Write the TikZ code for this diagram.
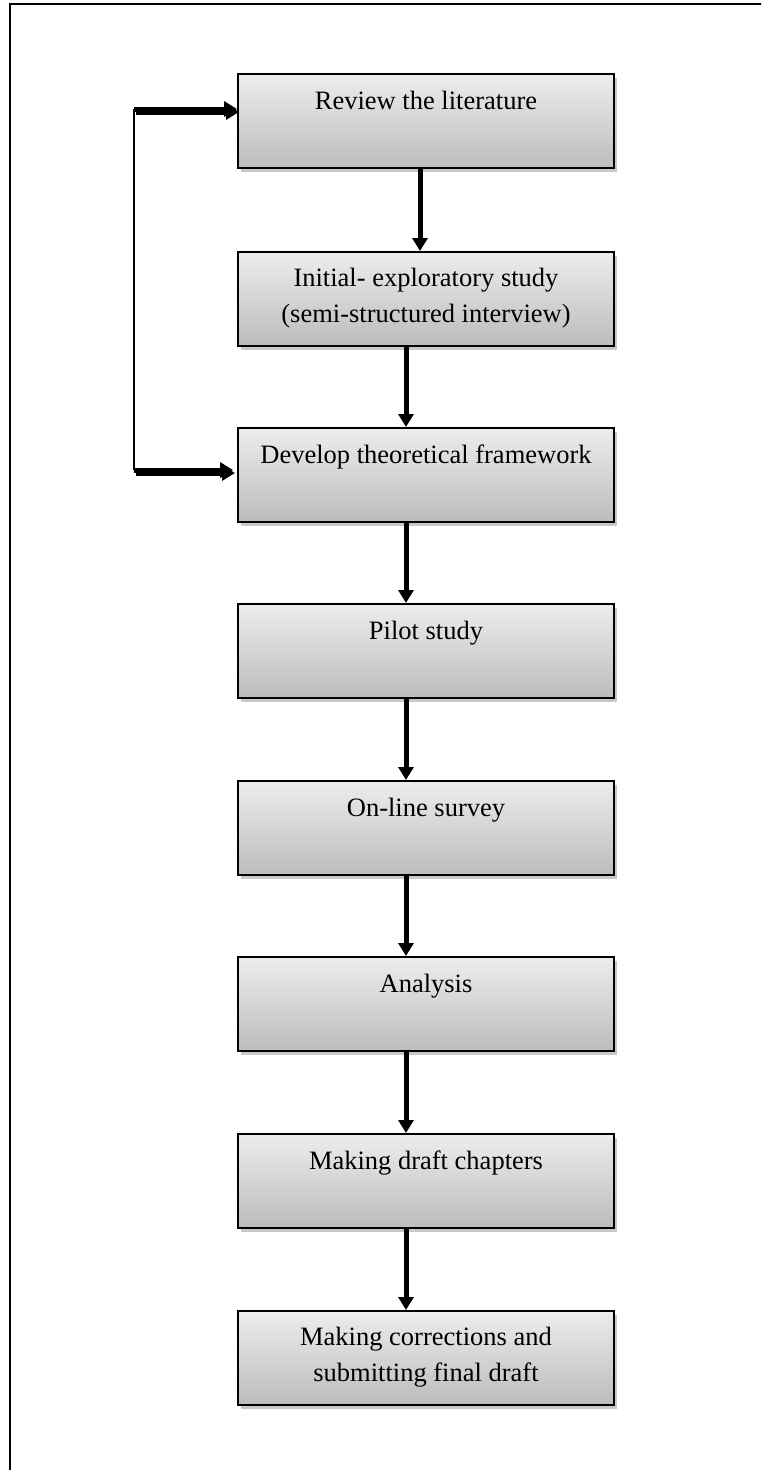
\documentclass[tikz,border=0pt]{standalone}
\usepackage{fontspec}
\setmainfont{Liberation Serif}
\usetikzlibrary{arrows.meta,shadows,calc}
\definecolor{boxtop}{HTML}{EDEDED}
\definecolor{boxbot}{HTML}{BCBCBC}
\definecolor{shade}{HTML}{C8C8C8}
\begin{document}
\begin{tikzpicture}[x=1pt,y=-1pt,
  stepbox/.style={draw=black, line width=2pt, minimum width=376pt, minimum height=94pt,
    top color=boxtop, bottom color=boxbot, inner sep=0pt,
    drop shadow={shadow xshift=3pt, shadow yshift=-4pt, fill=shade, opacity=1}},
  txt/.style={font=\fontsize{26.5}{36}\selectfont, align=center, inner sep=0pt, anchor=base},
  flow/.style={line width=5pt, -{Triangle[width=15pt,length=13pt]}},
  loopline/.style={line width=2pt}]
\useasboundingbox (0,0) rectangle (761,1470);
\clip (0,0) rectangle (761,1470);
% frame
\draw[line width=2pt] (10,1480) -- (10,4) -- (770,4);
% boxes
\node[stepbox] (b1) at (426,121) {};
\node[stepbox] (b2) at (426,299) {};
\node[stepbox] (b3) at (426,475) {};
\node[stepbox] (b4) at (426,651) {};
\node[stepbox] (b5) at (426,828) {};
\node[stepbox] (b6) at (426,1004) {};
\node[stepbox] (b7) at (426,1181) {};
\node[stepbox] (b8) at (426,1358) {};
% texts (base anchor of a two-line node is its last line)
\node[txt] (t1) at ($(b1.north)+(0,36)$) {Review the literature};
\node[txt] (t2) at ($(b2.north)+(0,71)$) {Initial- exploratory study\\(semi-structured interview)};
\node[txt] (t3) at ($(b3.north)+(0,36)$) {Develop theoretical framework};
\node[txt] (t4) at ($(b4.north)+(0,36)$) {Pilot study};
\node[txt] (t5) at ($(b5.north)+(0,36)$) {On-line survey};
\node[txt] (t6) at ($(b6.north)+(0,36)$) {Analysis};
\node[txt] (t7) at ($(b7.north)+(0,36)$) {Making draft chapters};
\node[txt] (t8) at ($(b8.north)+(0,71)$) {Making corrections and\\submitting final draft};
% vertical arrows
\draw[flow] ([xshift=-6pt]b1.south) -- ([xshift=-6pt]b2.north);
\draw[flow] ([xshift=-20pt]b2.south) -- ([xshift=-20pt]b3.north);
\draw[flow] ([xshift=-20pt]b3.south) -- ([xshift=-20pt]b4.north);
\draw[flow] ([xshift=-20pt]b4.south) -- ([xshift=-20pt]b5.north);
\draw[flow] ([xshift=-20pt]b5.south) -- ([xshift=-20pt]b6.north);
\draw[flow] ([xshift=-20pt]b6.south) -- ([xshift=-20pt]b7.north);
\draw[flow] ([xshift=-20pt]b7.south) -- ([xshift=-20pt]b8.north);
% feedback loop
\coordinate (lt) at (134,109);
\coordinate (lb) at (134,470);
\draw[loopline] (lt) -- (lb);
\draw[flow, shade, transform canvas={xshift=2pt,yshift=-3pt}] (lt) -- (lt -| b1.west);
\draw[flow, shade, transform canvas={xshift=2pt,yshift=-3pt}, shorten >=4pt] (lb) -- (lb -| b3.west);
\draw[flow] (lt) -- (lt -| b1.west);
\draw[flow, shorten >=4pt] (lb) -- (lb -| b3.west);
\end{tikzpicture}
\end{document}
